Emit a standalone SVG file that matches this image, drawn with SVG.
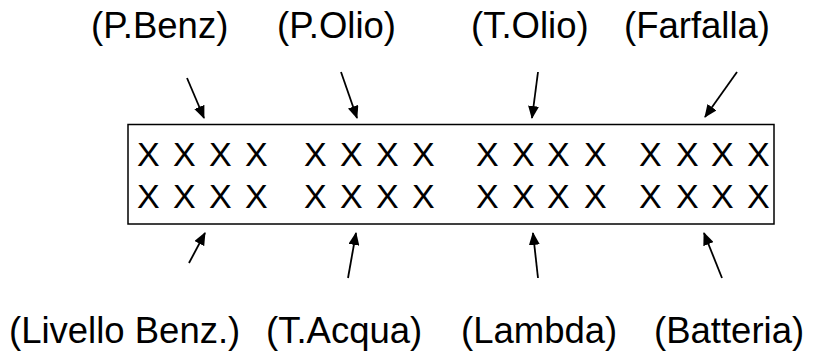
<svg xmlns="http://www.w3.org/2000/svg" width="832" height="351" viewBox="0 0 832 351">
<style>
.lbl{font-family:"Liberation Sans",Arial,sans-serif;font-size:36.5px;fill:#000}
.x{font-family:"Liberation Sans",Arial,sans-serif;font-size:34px;fill:#000}
.arr{stroke:#000;stroke-width:1.8;fill:none;marker-end:url(#ah)}
</style>
<defs>
<marker id="ah" viewBox="0 0 13 11" refX="12" refY="5.5" markerWidth="13" markerHeight="11" markerUnits="userSpaceOnUse" orient="auto">
<path d="M0,0 L13,5.5 L0,11 Z" fill="#000"/>
</marker>
</defs>
<rect width="832" height="351" fill="#fff"/>
<g id="display">
<rect x="128" y="124.5" width="646" height="99.5" fill="none" stroke="#000" stroke-width="1.5"/>
<text class="x" x="137 173 209 245" y="166">XXXX</text>
<text class="x" x="304 340 376 412" y="166">XXXX</text>
<text class="x" x="476 512 547 584" y="166">XXXX</text>
<text class="x" x="639 676 711 747" y="166">XXXX</text>
<text class="x" x="137 173 209 245" y="208">XXXX</text>
<text class="x" x="304 340 376 412" y="208">XXXX</text>
<text class="x" x="476 512 547 584" y="208">XXXX</text>
<text class="x" x="639 676 711 747" y="208">XXXX</text>
</g>
<g id="label-pbenz"><text class="lbl" x="91" y="38">(P.Benz)</text></g>
<g id="label-polio"><text class="lbl" x="277" y="38">(P.Olio)</text></g>
<g id="label-tolio"><text class="lbl" x="471" y="38">(T.Olio)</text></g>
<g id="label-farfalla"><text class="lbl" x="624" y="38">(Farfalla)</text></g>
<g id="label-livello"><text class="lbl" x="9" y="343">(Livello Benz.)</text></g>
<g id="label-tacqua"><text class="lbl" x="266" y="343">(T.Acqua)</text></g>
<g id="label-lambda"><text class="lbl" x="461" y="343">(Lambda)</text></g>
<g id="label-batteria"><text class="lbl" x="654" y="343">(Batteria)</text></g>
<g id="connectors">
<line class="arr" x1="187" y1="78" x2="204" y2="118"/>
<line class="arr" x1="341" y1="72" x2="357" y2="118"/>
<line class="arr" x1="538" y1="72" x2="532" y2="118"/>
<line class="arr" x1="737" y1="72" x2="705" y2="117"/>
<line class="arr" x1="189" y1="263" x2="205" y2="233"/>
<line class="arr" x1="348" y1="278" x2="356" y2="233"/>
<line class="arr" x1="538" y1="278" x2="533" y2="233"/>
<line class="arr" x1="722" y1="278" x2="704" y2="233"/>
</g>
</svg>
